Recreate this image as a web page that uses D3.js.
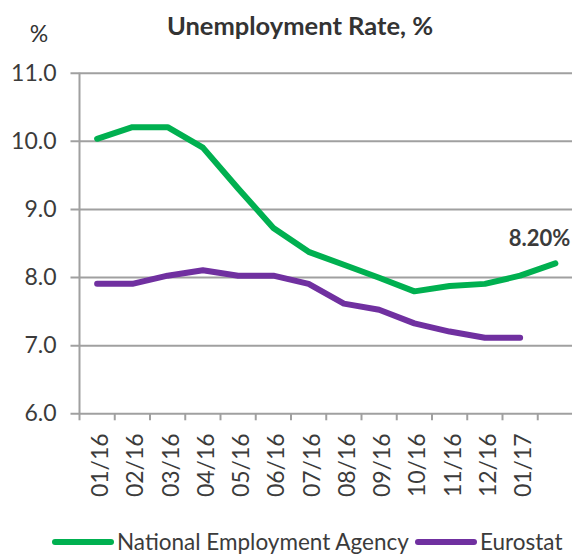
<!DOCTYPE html>
<html>
<head>
<meta charset="utf-8">
<script src="https://cdn.jsdelivr.net/npm/d3@7"></script>
<style>
  body { margin: 0; background: #fff; }
  svg { display: block; font-family: Lato, "Noto Sans", sans-serif; }
</style>
</head>
<body>
<svg width="572" height="554"></svg>
<script>
// months on the category axis (last one carries no label)
var months = ['01/16','02/16','03/16','04/16','05/16','06/16','07/16','08/16','09/16','10/16','11/16','12/16','01/17',''];
// National Employment Agency, %
var agency = [10.03, 10.2, 10.2, 9.9, 9.3, 8.72, 8.37, 8.18, 7.99, 7.79, 7.87, 7.9, 8.02, 8.2];
// Eurostat, %
var eurostat = [7.9, 7.9, 8.02, 8.1, 8.02, 8.02, 7.9, 7.61, 7.52, 7.32, 7.2, 7.11, 7.11];
var yTicks = [6, 7, 8, 9, 10, 11];

var svg = d3.select('svg');
var plotLeft = 79.5, plotRight = 573, plotTop = 72.7, plotBottom = 413.3;
var green = '#00b050', purple = '#7030a0', grid = '#a0a0a0', ink = '#3b3b3b';

var x = d3.scaleBand().domain(d3.range(months.length)).range([plotLeft, plotRight]);
var y = d3.scaleLinear().domain([6, 11]).range([plotBottom, plotTop]);
var cx = function(i) { return x(i) + x.bandwidth() / 2; };

// horizontal gridlines + y labels
var yAxis = svg.append('g').attr('transform', 'translate(' + plotLeft + ',0)')
    .call(d3.axisLeft(y).tickValues(yTicks).tickSizeInner(-(plotRight - plotLeft)).tickSizeOuter(0)
        .tickFormat(d3.format('.1f')).tickPadding(23));
yAxis.select('.domain').remove();
yAxis.selectAll('.tick line').attr('x1', -9).attr('stroke', grid).attr('stroke-width', 2);
yAxis.selectAll('.tick text').attr('fill', ink).style('font-size', '23px').style('font-family', 'Lato');

// vertical axis line
svg.append('line').attr('x1', plotLeft).attr('x2', plotLeft).attr('y1', plotTop).attr('y2', plotBottom)
    .attr('stroke', grid).attr('stroke-width', 2);

// category ticks between months
svg.append('g').selectAll('line').data(d3.range(months.length + 1)).enter().append('line')
    .attr('x1', function(i) { return i < months.length ? x(i) : plotRight; })
    .attr('x2', function(i) { return i < months.length ? x(i) : plotRight; })
    .attr('y1', plotBottom).attr('y2', plotBottom + 7)
    .attr('stroke', grid).attr('stroke-width', 2);

// month labels, rotated
svg.append('g').selectAll('text').data(months).enter().append('text')
    .attr('transform', function(d, i) { return 'translate(' + (cx(i) + 3) + ',' + (plotBottom + 20) + ') rotate(-90)'; })
    .attr('text-anchor', 'end').attr('dy', '0.35em')
    .attr('fill', ink).style('font-size', '23px')
    .text(function(d) { return d; });

var line = d3.line().x(function(d, i) { return cx(i); }).y(function(d) { return y(d); });

svg.append('path').datum(eurostat).attr('d', line)
    .attr('fill', 'none').attr('stroke', purple).attr('stroke-width', 6)
    .attr('stroke-linejoin', 'round').attr('stroke-linecap', 'round');
svg.append('path').datum(agency).attr('d', line)
    .attr('fill', 'none').attr('stroke', green).attr('stroke-width', 6)
    .attr('stroke-linejoin', 'round').attr('stroke-linecap', 'round');

// value label on the last point
var last = agency.length - 1;
svg.append('text').attr('x', cx(last) + 15).attr('y', y(agency[last]) - 17)
    .attr('text-anchor', 'end').attr('fill', ink)
    .style('font-size', '22px').style('font-weight', 'bold')
    .text(agency[last].toFixed(2) + '%');

// title and unit
svg.append('text').attr('x', 300).attr('y', 35).attr('text-anchor', 'middle')
    .attr('fill', '#333').style('font-size', '25.5px').style('font-weight', 'bold')
    .text('Unemployment Rate, %');
svg.append('text').attr('x', 39).attr('y', 42).attr('text-anchor', 'middle')
    .attr('fill', '#333').style('font-size', '23px')
    .text('%');

// legend
var legend = [{name: 'National Employment Agency', color: green, x: 55},
              {name: 'Eurostat', color: purple, x: 418}];
var lg = svg.append('g').selectAll('g').data(legend).enter().append('g')
    .attr('transform', function(d) { return 'translate(' + d.x + ',542)'; });
lg.append('line').attr('x1', 0).attr('x2', 56).attr('stroke', function(d) { return d.color; })
    .attr('stroke-width', 6).attr('stroke-linecap', 'round');
lg.append('text').attr('x', 62).attr('y', 8).attr('fill', ink).style('font-size', '22.5px')
    .text(function(d) { return d.name; });
</script>
</body>
</html>
